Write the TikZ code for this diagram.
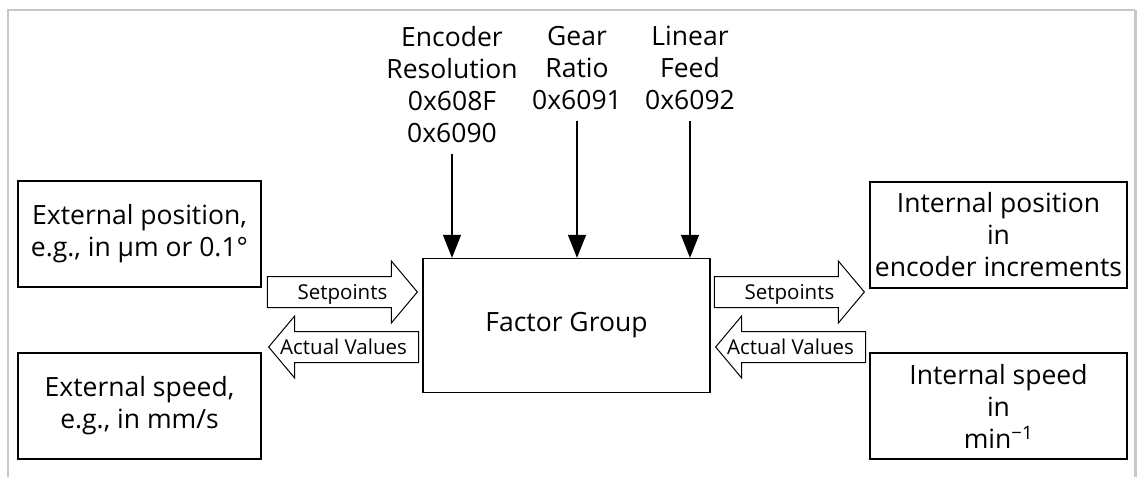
\documentclass[tikz,border=0pt]{standalone}
\usepackage{fontspec}
\setmainfont{Open Sans}
\usetikzlibrary{arrows.meta, positioning, shapes.arrows, calc}

\begin{document}
\begin{tikzpicture}[x=1pt, y=-1pt, >={Triangle[width=18pt, length=23pt]},
    every node/.style={align=center, font=\fontsize{26.5}{32}\selectfont},
    box/.style={draw, line width=1.3pt, minimum width=243pt, minimum height=106pt, inner sep=0pt},
    fat/.style={single arrow, draw, line width=1pt, single arrow head extend=15.5pt,
      single arrow tip angle=100, minimum height=150pt, inner xsep=0pt, inner ysep=3pt,
      text height=20pt, text depth=4pt},
    fatlabel/.style={anchor=base, inner sep=0pt, yshift=-7.5pt, font=\fontsize{20.5}{23}\selectfont},
    feed/.style={->, line width=1.3pt}]
  \colorlet{framegray}{black!22}
  \useasboundingbox (0,0) rectangle (1138,477);
  \draw[framegray, line width=1.5pt] (8,477) -- (8,10) -- (1135,10);
  \draw[framegray, line width=3pt] (1135,10) -- (1135,477);

  % middle block and the four value boxes
  \node[box, minimum width=287pt, minimum height=134pt] (fg) at (566.5,325.5) {Factor Group};
  \node[box] (extpos) at (139.5,234) {External position,\\e.g., in µm or 0.1°};
  \node[box] (extspd) at (139.5,406) {External speed,\\e.g., in mm/s};
  \node[box, minimum width=257pt] (intpos) at (998.5,235) {Internal position\\in\\encoder increments};
  \node[box, minimum width=257pt] (intspd) at (998.5,406) {Internal speed\\in\\min\textsuperscript{−1}};

  % setpoints go right, actual values come back
  \node[fat, anchor=tip] (spL) at (418,292) {};
  \node[fat, anchor=tip, shape border rotate=180] (avL) at (268,347) {};
  \node[fat, anchor=tip] (spR) at (865,292) {};
  \node[fat, anchor=tip, shape border rotate=180] (avR) at (715,347) {};
  \foreach \a/\txt in {spL/Setpoints, spR/Setpoints, avL/Actual Values, avR/Actual Values}
    \node[fatlabel] (\a txt) at ($(\a.tail)!0.5!(\a.tip)$) {\txt};

  % objects feeding the factor group
  \node[anchor=north, inner sep=0pt] (enc) at (452,26) {Encoder\\Resolution\\0x608F\\0x6090};
  \node[anchor=north, inner sep=0pt] (gear) at (577,26) {Gear\\Ratio\\0x6091};
  \node[anchor=north, inner sep=0pt] (lin) at (690,26) {Linear\\Feed\\0x6092};
  \foreach \n in {enc, gear, lin}
    \draw[feed] ([yshift=-11pt]\n.south) -- (\n.south |- fg.north);
\end{tikzpicture}
\end{document}
